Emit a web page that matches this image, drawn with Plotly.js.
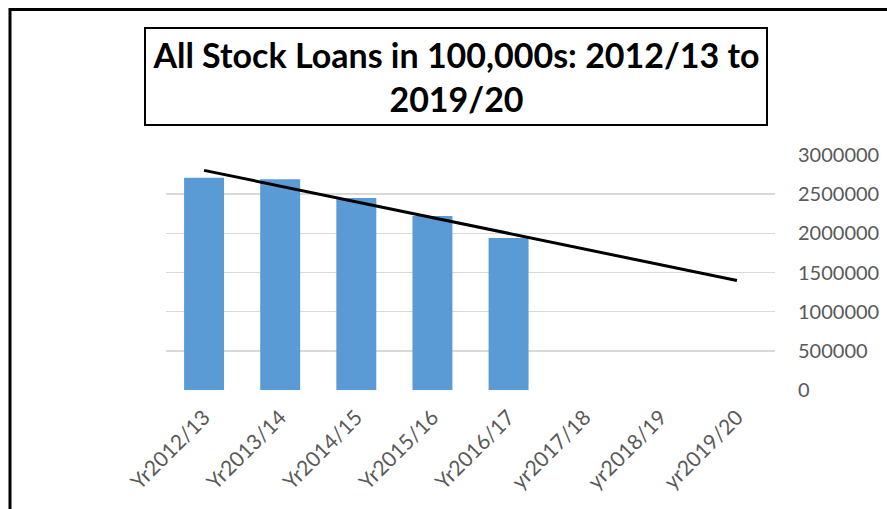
<!DOCTYPE html>
<html>
<head>
<meta charset="utf-8">
<script src="https://cdn.plot.ly/plotly-3.0.1.min.js"></script>
<style>
html,body{margin:0;padding:0;background:#fff;}
#chart{width:887px;height:509px;}
</style>
</head>
<body>
<div id="chart"></div>
<script>
// Data
var categories = ["Yr2012/13","Yr2013/14","Yr2014/15","Yr2015/16","Yr2016/17","yr2017/18","yr2018/19","yr2019/20"];
var stockLoans = [2710000, 2690000, 2450000, 2220000, 1940000, null, null, null];
var yTickVals = [0, 500000, 1000000, 1500000, 2000000, 2500000, 3000000];
var titleText = "All Stock Loans in 100,000s: 2012/13 to<br>2019/20";

// Linear trendline fitted to the available values (as Excel does)
var xs = [], ys = [];
stockLoans.forEach(function(v, i){ if (v !== null) { xs.push(i); ys.push(v); } });
var n = xs.length;
var mx = xs.reduce(function(a,b){return a+b;},0)/n;
var my = ys.reduce(function(a,b){return a+b;},0)/n;
var sxy = 0, sxx = 0;
for (var i = 0; i < n; i++) { sxy += (xs[i]-mx)*(ys[i]-my); sxx += (xs[i]-mx)*(xs[i]-mx); }
var slope = sxy/sxx, intercept = my - slope*mx;
var trendY = categories.map(function(c, i){ return intercept + slope*i; });

var W = 887, H = 509;
var M = {l:166, r:112, t:155, b:119};
var pw = W - M.l - M.r, ph = H - M.t - M.b;
function px(x){ return (x - M.l)/pw; }
function py(y){ return (H - M.b - y)/ph; }

var traces = [
  {
    type: 'bar',
    x: categories,
    y: stockLoans,
    marker: {color: '#5B9BD5'},
    hoverinfo: 'x+y'
  },
  {
    type: 'scatter',
    mode: 'lines',
    x: categories,
    y: trendY,
    line: {color: '#000000', width: 3},
    hoverinfo: 'skip'
  }
];

var layout = {
  width: W, height: H,
  margin: M,
  paper_bgcolor: '#ffffff',
  plot_bgcolor: '#ffffff',
  showlegend: false,
  bargap: 0.475,
  font: {family: 'Lato, Carlito, sans-serif', color: '#595959'},
  xaxis: {
    type: 'category',
    tickangle: -45,
    tickfont: {family: 'Lato, sans-serif', size: 21, color: '#595959'},
    showgrid: false,
    showline: false,
    zeroline: false,
    ticks: '',
    ticklabelstandoff: 10,
    fixedrange: true
  },
  yaxis: {
    side: 'right',
    range: [0, 3000000],
    tickvals: yTickVals,
    tickformat: 'd',
    tickfont: {family: 'Lato, sans-serif', size: 20, color: '#595959'},
    showgrid: true,
    gridcolor: '#d9d9d9',
    gridwidth: 1.5,
    zeroline: false,
    showline: false,
    ticks: '',
    ticklabelstandoff: 22,
    fixedrange: true
  },
  annotations: [{
    xref: 'paper', yref: 'paper',
    x: px(456), y: py(76.5),
    xanchor: 'center', yanchor: 'middle',
    text: titleText,
    showarrow: false,
    width: 620, height: 95,
    align: 'center',
    font: {family: 'Lato, sans-serif', size: 34, color: '#000000', weight: 'bold'},
    bordercolor: '#000000', borderwidth: 2, borderpad: 0,
    bgcolor: '#ffffff'
  }],
  shapes: [
    {type: 'line', xref: 'paper', yref: 'paper', x0: px(10), x1: px(W+5), y0: py(9.5), y1: py(9.5), line: {color: '#000', width: 3}},
    {type: 'line', xref: 'paper', yref: 'paper', x0: px(10), x1: px(10), y0: py(8), y1: py(H+5), line: {color: '#000', width: 3}}
  ]
};

Plotly.newPlot('chart', traces, layout, {displayModeBar: false, staticPlot: true});
</script>
</body>
</html>
